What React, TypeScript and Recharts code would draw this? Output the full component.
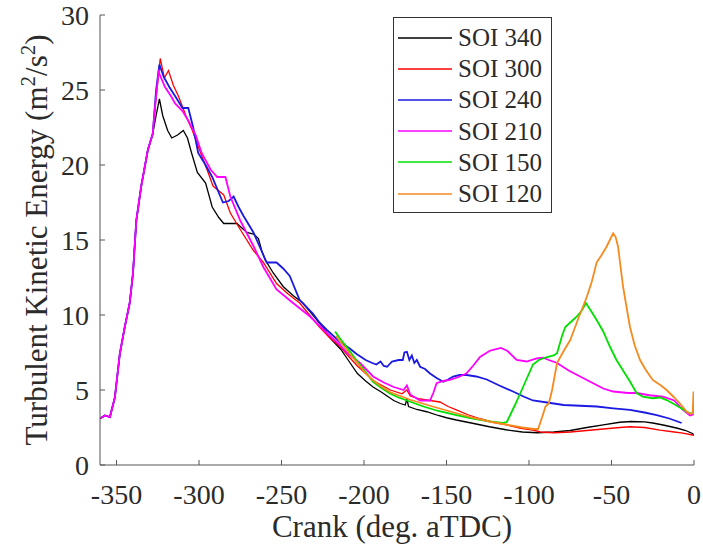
import React from "react";
import { LineChart, Line, XAxis, YAxis } from "recharts";

// shared intake rise, identical for the early-injection cases
const riseCrank = [-360, -357, -354, -351, -348, -345, -342, -340, -338, -335, -331, -328];
const riseTke = [3.1, 3.3, 3.2, 4.5, 7.4, 9.2, 10.8, 12.8, 16.3, 18.6, 21.0, 22.1];

const soi340Crank = [-326, -324, -322, -319, -316.5, -313, -309.5, -307, -304.5, -301, -296, -292, -288, -285, -281, -277, -274, -271, -267, -264, -262, -260, -255, -249, -243, -237, -231, -225, -220, -214, -209, -204, -199, -194.5, -190, -186, -182, -178, -175, -174, -173, -168, -162, -155, -150, -144, -135, -124, -114, -104, -95, -85, -75, -65, -55, -45, -38, -30, -25, -18, -10, -5, -1, 0];
const soi340Tke = [23.3, 24.4, 23.3, 22.3, 21.8, 22.0, 22.3, 21.8, 20.8, 19.5, 18.8, 17.2, 16.5, 16.1, 16.1, 16.1, 15.8, 15.5, 15.4, 15.1, 14.3, 13.7, 12.8, 11.9, 11.3, 10.8, 10.0, 9.2, 8.4, 7.7, 6.9, 6.1, 5.6, 5.2, 4.9, 4.6, 4.3, 4.1, 4.0, 4.4, 3.9, 3.7, 3.55, 3.3, 3.15, 3.0, 2.8, 2.55, 2.35, 2.2, 2.15, 2.2, 2.3, 2.5, 2.67, 2.85, 2.9, 2.88, 2.8, 2.65, 2.45, 2.3, 2.1, 2.0];

const soi300Crank = [-326, -323.5, -321, -318.5, -315.5, -312.5, -308, -304, -299, -294.5, -291.5, -285, -281, -275, -267, -261, -253, -246, -239, -233, -227, -221, -214.5, -209, -204, -199, -194, -189, -184, -177, -174, -172, -166, -160, -154, -149, -144, -137, -130, -122, -113.5, -105, -97.6, -93, -85, -75, -65, -55, -45, -38.8, -30, -20.6, -12, -6.7, -1, 0];
const soi300Tke = [24.5, 27.1, 25.8, 26.3, 25.3, 24.6, 23.3, 22.3, 20.8, 19.5, 18.6, 18.0, 16.8, 15.7, 14.3, 13.5, 12.1, 11.4, 10.8, 10.0, 9.2, 8.5, 7.9, 7.2, 6.6, 6.1, 5.6, 5.3, 5.0, 4.75, 5.0, 4.6, 4.4, 4.3, 4.2, 3.9, 3.67, 3.35, 3.1, 2.85, 2.67, 2.45, 2.33, 2.2, 2.15, 2.2, 2.3, 2.4, 2.5, 2.55, 2.5, 2.33, 2.2, 2.13, 2.0, 2.0];

const soi240Crank = [-326, -324, -321.5, -318, -314.5, -310, -306.5, -303.5, -300.5, -296, -292, -285.5, -282, -279, -276, -273, -267, -263, -259, -253, -249, -245, -239, -231, -227, -222.5, -214.5, -209, -204.5, -199, -195, -192.5, -190, -188, -186, -183, -179, -176.5, -175.5, -174, -172.5, -171, -169.5, -168, -166, -163, -160, -156, -152, -149, -146, -142, -137.8, -132, -125.6, -118, -109.7, -103, -97.6, -88, -79, -69, -59, -49, -38.8, -30, -22.6, -15, -7.5];
const soi240Tke = [25.0, 26.7, 25.9, 25.2, 24.6, 23.8, 23.8, 22.5, 20.8, 20.0, 19.2, 17.5, 17.6, 17.9, 17.2, 16.6, 15.5, 14.5, 13.5, 13.5, 13.1, 12.6, 11.0, 10.1, 9.5, 9.0, 8.2, 7.8, 7.4, 7.0, 6.8, 6.7, 6.9, 6.6, 6.55, 6.9, 7.0, 7.0, 7.5, 7.55, 7.0, 7.3, 6.8, 7.0, 6.55, 6.4, 6.1, 5.8, 5.55, 5.7, 5.9, 6.0, 6.0, 5.9, 5.7, 5.3, 4.9, 4.55, 4.3, 4.15, 4.0, 3.95, 3.9, 3.78, 3.67, 3.5, 3.33, 3.1, 2.8];

const soi210Crank = [-327, -324.5, -320.6, -317, -314.5, -310, -306.7, -302, -298.4, -293, -289, -284, -281, -275, -267, -261, -253, -243, -232.7, -222.6, -214.5, -210.5, -202.4, -194.5, -188, -182, -176, -174, -172, -169, -166, -160, -158, -156, -152, -148, -143, -138, -134, -129.7, -124, -121.8, -117, -113, -107.5, -101.4, -95.4, -91.5, -88, -83, -76, -69, -62, -55, -49, -40, -34.8, -27, -18.8, -12, -6.7, -2.4, 0];
const soi210Tke = [23.5, 26.2, 25.2, 24.6, 24.1, 23.6, 23.0, 22.0, 20.8, 19.7, 19.2, 19.2, 17.9, 16.3, 14.6, 13.2, 11.7, 10.8, 9.9, 8.8, 8.0, 7.5, 6.8, 5.9, 5.5, 5.2, 5.0, 5.3, 4.7, 4.5, 4.3, 4.3, 4.8, 5.45, 5.6, 5.67, 5.85, 6.1, 6.6, 7.2, 7.6, 7.67, 7.8, 7.6, 7.0, 6.9, 7.1, 7.15, 7.0, 6.8, 6.3, 5.9, 5.5, 5.1, 4.9, 4.8, 4.8, 4.65, 4.55, 4.3, 3.67, 3.3, 3.4];

const soi150Crank = [-217.5, -215, -210, -204, -199, -194.5, -189, -184, -179, -174, -169, -164, -155, -144, -134, -123.6, -116, -113.5, -108.5, -103.6, -100, -97.6, -94, -89, -85, -83, -80, -78, -74, -71, -68, -65.5, -62, -59, -55, -51, -47, -43, -39, -34.8, -31, -25, -20.6, -16.6, -12.7, -8, -4.4, -1];
const soi150Tke = [8.9, 8.5, 7.8, 6.9, 6.2, 5.55, 5.1, 4.75, 4.5, 4.3, 4.1, 3.9, 3.6, 3.33, 3.1, 2.9, 2.8, 2.85, 4.0, 5.2, 6.1, 6.7, 7.0, 7.2, 7.3, 7.45, 8.6, 9.2, 9.6, 9.9, 10.3, 10.8, 10.2, 9.67, 8.9, 7.9, 7.0, 6.3, 5.6, 4.8, 4.55, 4.45, 4.5, 4.33, 4.1, 3.8, 3.55, 3.4];

const soi120Crank = [-217, -210, -204, -199, -194, -189, -184, -178, -172, -166, -160, -152, -144, -134, -124, -114, -104, -97, -94.5, -92, -90, -88, -86, -83, -79, -75, -70, -65, -62, -59, -56, -53, -51, -49, -47.5, -46, -44.5, -43, -41, -38.8, -36, -32.7, -29, -25, -20, -16.6, -12, -8.5, -4.4, -2, -0.8, -0.3, 0];
const soi120Tke = [8.6, 7.6, 6.8, 6.1, 5.6, 5.2, 4.85, 4.6, 4.35, 4.15, 3.95, 3.7, 3.45, 3.15, 2.9, 2.7, 2.5, 2.4, 2.4, 3.2, 3.9, 4.1, 5.0, 6.8, 7.6, 8.33, 9.8, 11.2, 12.2, 13.5, 14.0, 14.55, 15.0, 15.45, 15.2, 14.55, 13.2, 11.9, 10.6, 9.2, 8.0, 7.0, 6.3, 5.67, 5.3, 5.0, 4.5, 4.1, 3.55, 3.4, 3.5, 4.9, 3.3];

const xTicks = [-350, -300, -250, -200, -150, -100, -50, 0];
const yTicks = [0, 5, 10, 15, 20, 25, 30];

const FONT = "Liberation Serif";
const INK = "#2b2b2b";
const AXIS = "#555";

const toPoints = (crank: number[], tke: number[]) =>
  crank.map((c, i) => ({ crank: c, tke: tke[i] }));

const series = [
  { name: "SOI 340", color: "#000000", width: 1.3, data: toPoints([...riseCrank, ...soi340Crank], [...riseTke, ...soi340Tke]) },
  { name: "SOI 300", color: "#ff0000", width: 1.3, data: toPoints([...riseCrank, ...soi300Crank], [...riseTke, ...soi300Tke]) },
  { name: "SOI 240", color: "#1a1ae0", width: 1.8, data: toPoints([...riseCrank, ...soi240Crank], [...riseTke, ...soi240Tke]) },
  { name: "SOI 210", color: "#ff00ff", width: 1.8, data: toPoints([...riseCrank, ...soi210Crank], [...riseTke, ...soi210Tke]) },
  { name: "SOI 150", color: "#00e000", width: 1.8, data: toPoints(soi150Crank, soi150Tke) },
  { name: "SOI 120", color: "#f58a1f", width: 1.8, data: toPoints(soi120Crank, soi120Tke) },
];

// ticks point inward, like the original matlab axes
const XTick = ({ x, y, payload }: any) => (
  <g>
    <line x1={x} x2={x} y1={y - 19} y2={y - 24} stroke={AXIS} />
    <text x={x} y={y} dy="0.71em" textAnchor="middle" fontSize={28} fill={INK} fontFamily={FONT}>
      {payload.value}
    </text>
  </g>
);

const YTick = ({ x, y, payload }: any) => (
  <g>
    <line x1={x + 11} x2={x + 16} y1={y} y2={y} stroke={AXIS} />
    <text x={x} y={y} dy="0.355em" textAnchor="end" fontSize={28} fill={INK} fontFamily={FONT}>
      {payload.value}
    </text>
  </g>
);

const XLabel = () => (
  <text x={392} y={537} textAnchor="middle" fontSize={31} fill={INK} fontFamily={FONT}>
    Crank (deg. aTDC)
  </text>
);

const YLabel = () => (
  <text transform="translate(47, 240) rotate(-90)" textAnchor="middle" fontSize={31} fill={INK} fontFamily={FONT}>
    Turbulent Kinetic Energy (m
    <tspan dy={-12} fontSize={21}>2</tspan>
    <tspan dy={12}>/s</tspan>
    <tspan dy={-12} fontSize={21}>2</tspan>
    <tspan dy={12}>)</tspan>
  </text>
);

export default function App() {
  return (
    <div style={{ position: "absolute", left: 0, top: 0, width: 703, height: 550, background: "#fff" }}>
      <style>{"#root text, #root span { font-family: 'Liberation Serif', 'Times New Roman', serif !important; }"}</style>
      <LineChart width={703} height={550} margin={{ top: 15, right: 9, bottom: 0, left: 0 }}>
        <XAxis
          dataKey="crank"
          type="number"
          domain={[-360, 0]}
          ticks={xTicks}
          allowDataOverflow
          height={85}
          stroke={AXIS}
          tickLine={false}
          tickSize={0}
          tickMargin={19}
          tick={<XTick />}
          label={<XLabel />}
        />
        <YAxis
          type="number"
          domain={[0, 30]}
          ticks={yTicks}
          width={100}
          stroke={AXIS}
          tickLine={false}
          tickSize={0}
          tickMargin={11}
          tick={<YTick />}
          label={<YLabel />}
        />
        {series.map((s) => (
          <Line
            key={s.name}
            data={s.data}
            dataKey="tke"
            name={s.name}
            type="linear"
            stroke={s.color}
            strokeWidth={s.width}
            dot={false}
            isAnimationActive={false}
          />
        ))}
      </LineChart>
      <div
        style={{
          position: "absolute",
          left: 393,
          top: 17,
          width: 157,
          height: 190,
          border: "1px solid #333",
          background: "#fff",
          paddingTop: 4,
          fontFamily: FONT,
        }}
      >
        {series.map((s) => (
          <div key={s.name} style={{ display: "flex", alignItems: "center", height: 31.2 }}>
            <svg width={60} height={10} style={{ marginLeft: 4 }}>
              <line x1={0} y1={5} x2={54} y2={5} stroke={s.color} strokeWidth={1.5} />
            </svg>
            <span style={{ fontSize: 25, color: INK, lineHeight: "31px", fontFamily: FONT }}>{s.name}</span>
          </div>
        ))}
      </div>
    </div>
  );
}
